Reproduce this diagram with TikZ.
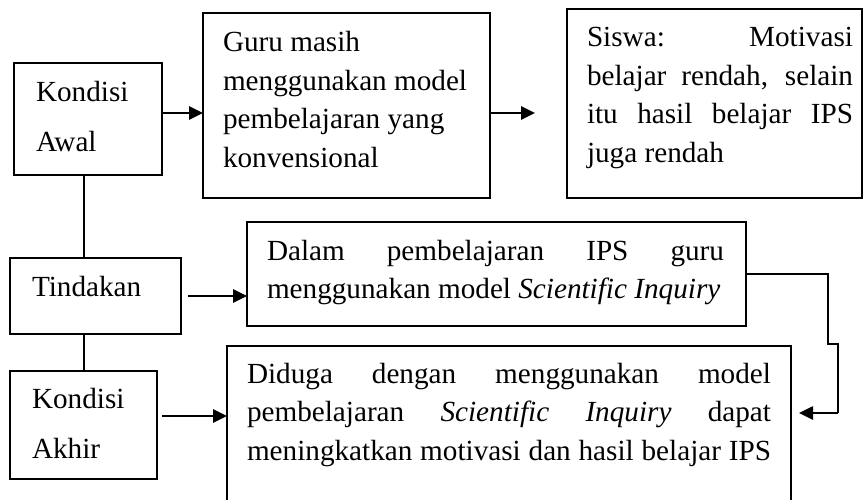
\documentclass[tikz,border=0pt]{standalone}
\usepackage{fontspec}
\setmainfont{Liberation Serif}
\usetikzlibrary{arrows.meta}
\newcommand{\jline}[2]{\makebox[#1][s]{#2}}
\tikzset{
  box/.style={draw, line width=1.8pt, inner sep=0pt, outer sep=0pt},
  txt/.style={anchor=base west, inner sep=0pt, outer sep=0pt, font=\fontsize{29.2}{38.5}\selectfont},
  txtwide/.style={anchor=base west, inner sep=0pt, outer sep=0pt, font=\fontsize{29.2}{50}\selectfont},
  arr/.style={line width=2.6pt, -{Triangle[length=14pt,width=13pt]}},
  spine/.style={line width=2pt},
  thinline/.style={line width=1.4pt}
}
\begin{document}
\begin{tikzpicture}[x=1pt, y=-1pt]
\clip (0,0) rectangle (864,500);
% boxes
\node[box, minimum width=148pt, minimum height=112pt] (awal) at (88,119) {};
\node[box, minimum width=287pt, minimum height=185pt] (guru) at (346.5,105.5) {};
\node[box, minimum width=295pt, minimum height=189pt] (siswa) at (714.5,103.5) {};
\node[box, minimum width=171pt, minimum height=76pt] (tind) at (95.5,296) {};
\node[box, minimum width=499pt, minimum height=104pt] (dalam) at (496.5,274) {};
\node[box, minimum width=147pt, minimum height=108pt] (akhir) at (83.5,425) {};
\node[box, minimum width=564pt, minimum height=164pt] (diduga) at (509,428) {};
% texts
\node[txtwide] (awalT) at (36,102) {\parbox[t]{110pt}{Kondisi\\Awal}};
\node[txt] (guruT) at (223,52) {\parbox[t]{262pt}{Guru masih\\menggunakan model\\pembelajaran yang\\konvensional}};
\node[txt] (siswaT) at (587,47) {\parbox[t]{266pt}{\jline{266pt}{Siswa: Motivasi}\\\jline{266pt}{belajar rendah, selain}\\\jline{266pt}{itu hasil belajar IPS}\\juga rendah}};
\node[txt] (tindT) at (32,296) {Tindakan};
\node[txt] (dalamT) at (267,260) {\parbox[t]{457pt}{\jline{457pt}{Dalam pembelajaran IPS guru}\\menggunakan model \textit{Scientific Inquiry}}};
\node[txtwide] (akhirT) at (32,408) {\parbox[t]{110pt}{Kondisi\\Akhir}};
\node[txt] (didugaT) at (247,383) {\parbox[t]{524pt}{\jline{524pt}{Diduga dengan menggunakan model}\\\jline{524pt}{pembelajaran \textit{Scientific Inquiry} dapat}\\\jline{524pt}{meningkatkan motivasi dan hasil belajar IPS}}};
% helper coordinates
\coordinate (sp) at (84,0);
\coordinate (a1) at (0,113);
\coordinate (e2) at (535,113);
\coordinate (a4) at (0,416);
\coordinate (j1) at (828,344);
\coordinate (j2) at (838,413);
% connectors
\draw[spine] (sp |- awal.south) -- (sp |- tind.north);
\draw[spine] (sp |- tind.south) -- (sp |- akhir.north);
\draw[arr] (awal.east |- a1) -- (guru.west |- a1);
\draw[arr] (guru.east |- a1) -- (e2);
\draw[arr, shorten <=7pt] (tind.east) -- (dalam.west |- tind.east);
\draw[arr, shorten <=5pt] (akhir.east |- a4) -- (diduga.west |- a4);
\draw[thinline] (dalam.east) -| (j1) -| (j2);
\draw[arr, shorten >=8pt] (j2) -- (diduga.east |- j2);
\end{tikzpicture}
\end{document}
